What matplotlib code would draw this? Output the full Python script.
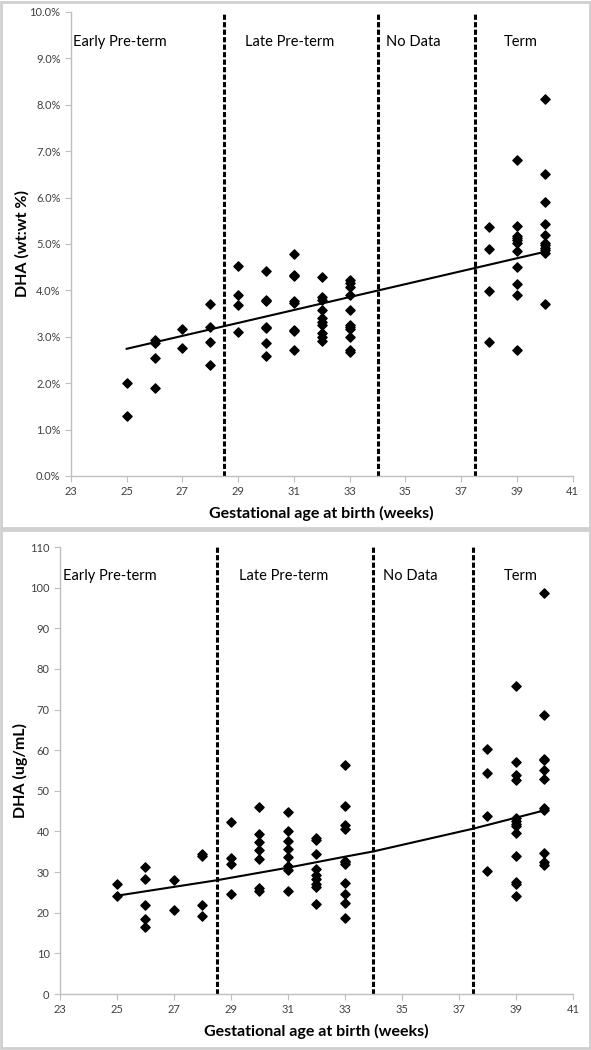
import numpy as np
import matplotlib
matplotlib.use('Agg')
import matplotlib.pyplot as plt
from matplotlib.patches import Rectangle
from matplotlib.ticker import FuncFormatter

plt.rcParams['font.family'] = ['Lato', 'DejaVu Sans']

# ---- data ----
# top panel: DHA wt:wt % by gestational week
semanas_pct = ([25] * 2 + [26] * 4 + [27] * 2 + [28] * 4 + [29] * 4 + [30] * 7 + [31] * 8 +
               [32] * 10 + [33] * 11 + [38] * 4 + [39] * 11 + [40] * 11)
dha_pct = [2.00, 1.29,
           2.92, 2.87, 2.54, 1.89,
           3.17, 2.75,
           3.71, 3.22, 2.89, 2.40,
           4.53, 3.90, 3.69, 3.10,
           4.41, 3.79, 3.76, 3.18, 2.86, 2.59, 3.20,
           4.78, 4.33, 4.31, 3.77, 3.72, 3.14, 3.12, 2.72,
           4.28, 3.85, 3.80, 3.57, 3.40, 3.32, 3.25, 3.07, 3.00, 2.90,
           4.22, 4.15, 4.07, 3.90, 3.58, 3.25, 3.20, 3.16, 3.00, 2.72, 2.67,
           5.36, 4.88, 3.98, 2.88,
           6.80, 5.38, 5.17, 5.13, 5.09, 5.01, 4.85, 4.51, 4.14, 3.89, 2.72,
           8.12, 6.51, 5.90, 5.43, 5.19, 5.01, 4.97, 4.91, 4.86, 4.81, 3.71]

# linha de tendencia (linear)
tend_x_pct = [25, 40]
tend_y_pct = [2.74, 4.83]

# bottom panel: DHA ug/mL by gestational week
semanas_ug = ([25] * 2 + [26] * 5 + [27] * 2 + [28] * 4 + [29] * 4 + [30] * 7 + [31] * 8 +
              [32] * 9 + [33] * 11 + [38] * 4 + [39] * 13 + [40] * 11)
dha_ug = [27.2, 24.2,
          31.2, 28.4, 21.8, 18.5, 16.5,
          28.0, 20.8,
          34.5, 34.0, 22.0, 19.1,
          42.3, 33.6, 32.1, 24.5,
          46.1, 39.3, 37.3, 35.5, 33.2, 26.0, 25.3,
          44.7, 40.1, 37.7, 35.7, 33.7, 31.4, 30.5, 25.3,
          38.3, 37.8, 34.4, 30.7, 29.4, 28.2, 27.0, 26.4, 22.1,
          56.4, 46.3, 41.6, 40.5, 32.8, 32.4, 31.9, 27.3, 24.7, 22.5, 18.7,
          60.4, 54.5, 43.7, 30.3,
          75.9, 57.2, 53.9, 52.7, 43.4, 42.6, 41.8, 41.3, 39.6, 33.9, 27.6, 27.0, 24.1,
          98.8, 68.6, 57.9, 57.5, 55.2, 52.8, 45.9, 45.2, 34.7, 32.5, 31.7]

# linha de tendencia (exponencial)
tend_x_ug = [25, 28.5, 31, 33, 34, 37.5, 40]
tend_y_ug = [24.2, 28.0, 31.1, 33.8, 35.1, 40.7, 45.2]

limites = [28.5, 34, 37.5]
grupos = ['Early Pre-term', 'Late Pre-term', 'No Data', 'Term']
pos_grupos = [24.75, 30.85, 35.3, 39.15]

cinza = '#bfbfbf'
texto = '#404040'


def estilo(ax, ymax, ystep):
    ax.set_xlim(23, 41)
    ax.set_xticks(range(23, 42, 2))
    ax.set_ylim(0, ymax)
    ax.set_yticks(np.arange(0, ymax + ystep / 2, ystep))
    for lado in ['top', 'right']:
        ax.spines[lado].set_visible(False)
    for lado in ['left', 'bottom']:
        ax.spines[lado].set_color(cinza)
        ax.spines[lado].set_linewidth(1)
    ax.tick_params(direction='out', length=4, color=cinza, labelsize=8, labelcolor=texto)
    for x in limites:
        ax.axvline(x, color='black', linestyle=(0, (1.7, 0.75)), linewidth=2.2)
    for nome, x in zip(grupos, pos_grupos):
        ax.text(x, ymax * 0.935, nome, ha='center', va='center', fontsize=10.5, color='black')
    ax.set_xlabel('Gestational age at birth (weeks)', fontsize=11.5, fontweight='bold', labelpad=6)


fig = plt.figure(figsize=(5.91, 10.5), dpi=100)

# moldura cinza de cada painel (estilo Excel)
fig.patches.append(Rectangle((0.002, 0.497), 0.996, 0.501, transform=fig.transFigure,
                             fill=False, edgecolor='#d0d0d0', linewidth=2))
fig.patches.append(Rectangle((0.002, 0.002), 0.996, 0.493, transform=fig.transFigure,
                             fill=False, edgecolor='#d0d0d0', linewidth=2))

# ---- painel de cima ----
ax1 = fig.add_axes([0.120, 0.5467, 0.849, 0.442])
estilo(ax1, 10, 1)
ax1.yaxis.set_major_formatter(FuncFormatter(lambda v, p: f'{v:.1f}%'))
ax1.scatter(semanas_pct, dha_pct, marker='D', s=22, color='black', zorder=3)
ax1.plot(tend_x_pct, tend_y_pct, color='black', linewidth=1.5, zorder=2)
ax1.set_ylabel('DHA (wt:wt %)', fontsize=11.5, fontweight='bold')
ax1.yaxis.set_label_coords(-0.082, 0.5)

# ---- painel de baixo ----
ax2 = fig.add_axes([0.1015, 0.0533, 0.868, 0.4257])
estilo(ax2, 110, 10)
ax2.scatter(semanas_ug, dha_ug, marker='D', s=22, color='black', zorder=3)
ax2.plot(tend_x_ug, tend_y_ug, color='black', linewidth=1.5, zorder=2)
ax2.set_ylabel('DHA (ug/mL)', fontsize=11.5, fontweight='bold')
ax2.yaxis.set_label_coords(-0.062, 0.5)

plt.savefig('out.png', dpi=100)
plt.close()
